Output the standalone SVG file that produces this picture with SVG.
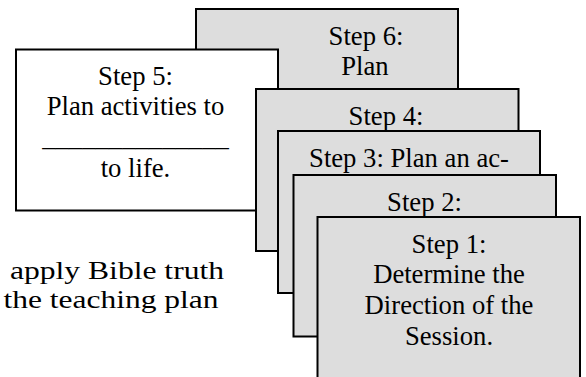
<svg xmlns="http://www.w3.org/2000/svg" width="586" height="377" viewBox="0 0 586 377">
<style>
.box{fill:#dddddd;stroke:#000;stroke-width:2}
.wbox{fill:#ffffff;stroke:#000;stroke-width:2}
text{font-family:'Liberation Serif','Times New Roman',serif;fill:#000}
.t{font-size:26.67px;text-anchor:middle}
.bg{font-size:26px}
</style>
<rect width="586" height="377" fill="#ffffff"/>
<g id="background-text">
<text class="bg" x="10" y="279" textLength="214" lengthAdjust="spacingAndGlyphs">apply Bible truth</text>
<text class="bg" x="3.5" y="307.5" textLength="215" lengthAdjust="spacingAndGlyphs">the teaching plan</text>
</g>
<g id="connectors"></g>
<g id="step6">
<rect class="box" x="196" y="9" width="262" height="110"/>
<text class="t" x="366" y="44.5">Step 6:</text>
<text class="t" x="365" y="75.2">Plan</text>
</g>
<g id="step5">
<rect class="wbox" x="16" y="49.5" width="262" height="161"/>
<text class="t" x="135.5" y="84.5">Step 5:</text>
<text class="t" x="135.5" y="115.2">Plan activities to</text>
<text class="t" x="135.5" y="145.8">______________</text>
<text class="t" x="135.5" y="176.5">to life.</text>
</g>
<g id="step4">
<rect class="box" x="256" y="89" width="262.5" height="162"/>
<text class="t" x="386" y="125">Step 4:</text>
</g>
<g id="step3">
<rect class="box" x="278" y="131" width="262" height="162"/>
<text class="t" x="409" y="166.5">Step 3: Plan an ac-</text>
</g>
<g id="step2">
<rect class="box" x="293.5" y="175" width="262.5" height="161.5"/>
<text class="t" x="424.5" y="210.5">Step 2:</text>
</g>
<g id="step1">
<rect class="box" x="317.5" y="217" width="262.5" height="162"/>
<text class="t" x="449" y="252.5">Step 1:</text>
<text class="t" x="449" y="283.2">Determine the</text>
<text class="t" x="449" y="313.8">Direction of the</text>
<text class="t" x="449" y="344.5">Session.</text>
</g>
</svg>
